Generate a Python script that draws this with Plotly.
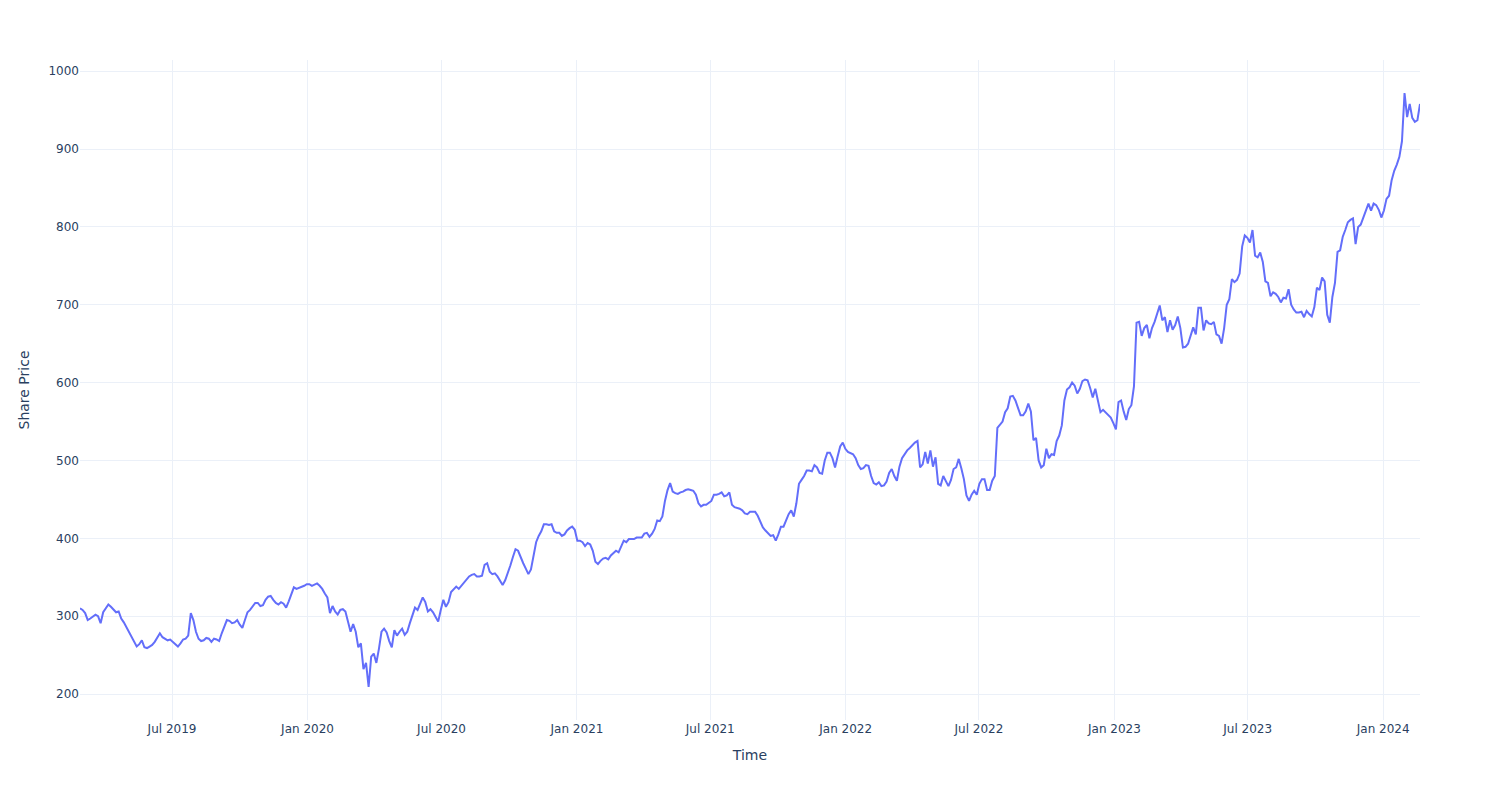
import pandas as pd
import plotly.graph_objects as go

start_date = "2019-02-26"
step = "84h"  # readings every 3.5 days
share_price = [
    310, 308, 304, 295, 297, 299, 302, 300, 291, 305,
    310, 315, 312, 309, 305, 306, 297, 292, 286, 279,
    274, 268, 261, 264, 269, 260, 259, 261, 263, 267,
    272, 278, 273, 271, 269, 270, 267, 265, 261, 265,
    270, 271, 275, 304, 295, 280, 271, 268, 269, 272,
    271, 267, 271, 270, 268, 278, 288, 295, 294, 291,
    292, 295, 289, 285, 295, 305, 308, 313, 317, 317,
    313, 314, 321, 325, 326, 321, 317, 315, 318, 316,
    311, 319, 328, 337, 335, 336, 337, 339, 341, 341,
    339, 341, 342, 339, 335, 329, 324, 304, 313, 306,
    302, 308, 309, 306, 294, 280, 290, 280, 260, 265,
    232, 240, 209, 248, 252, 240, 258, 280, 284, 279,
    268, 260, 282, 275, 280, 284, 276, 280, 291, 302,
    311, 308, 316, 324, 318, 306, 309, 305, 299, 293,
    308, 321, 312, 318, 331, 335, 338, 335, 339, 344,
    347, 351, 353, 354, 351, 351, 352, 366, 368, 357,
    354, 355, 351, 345, 340, 346, 355, 365, 376, 386,
    384, 375, 368, 361, 354, 360, 380, 395, 403, 409,
    418, 418, 417, 418, 409, 407, 407, 403, 405, 410,
    413, 415, 411, 397, 397, 395, 390, 394, 392, 384,
    370, 367, 371, 374, 375, 373, 378, 381, 384, 382,
    390, 397, 395, 399, 399, 399, 401, 401, 401, 406,
    407, 402, 406, 412, 423, 422, 428, 448, 462, 471,
    460, 458, 457, 459, 460, 462, 463, 462, 461, 456,
    445, 441, 443, 443, 445, 448, 456, 456, 457, 459,
    454, 455, 459, 443, 440, 439, 438, 436, 432, 431,
    434, 434, 434, 429, 422, 414, 410, 406, 403, 404,
    397, 405, 415, 415, 424, 431, 436, 428, 445, 470,
    475, 480, 487, 487, 486, 494, 491, 484, 483, 500,
    510, 510, 503, 491, 505, 518, 523, 515, 511, 510,
    508, 503, 494, 489, 490, 494, 493, 480, 471, 469,
    472, 467, 468, 473, 484, 489, 480, 474, 492, 503,
    508, 513, 516, 520, 523, 525, 491, 495, 511, 496,
    513, 492, 504, 470, 468, 480, 473, 467, 475, 489,
    491, 502, 490, 476, 455, 448, 456, 461, 456, 470,
    476, 476, 462, 462, 474, 480, 542, 546, 550, 562,
    567, 582, 583, 577, 567, 558, 558, 563, 573, 563,
    526, 529, 500, 491, 494, 515, 503, 508, 507, 525,
    532, 545, 577, 591, 594, 600, 596, 586, 592, 602,
    604, 603, 593, 581, 592, 575, 562, 565, 562, 559,
    555, 548, 540, 575, 577, 563, 552, 566, 571, 595,
    677, 678, 660, 670, 674, 657, 670, 678, 690, 699,
    680, 684, 665, 680, 668, 674, 685, 670, 645, 646,
    650, 660, 671, 662, 696, 696, 667, 680, 676, 675,
    678, 662, 660, 650, 670, 700, 707, 733, 729, 732,
    740, 775, 789, 786, 780, 796, 763, 761, 767, 755,
    730, 728, 711, 716, 714, 710, 703, 709, 708, 720,
    700, 694, 690, 690, 691, 684, 692, 688, 685, 697,
    722, 719, 735, 730, 687, 677, 710, 728, 768, 770,
    787, 796, 806, 809, 811, 778, 800, 803, 812, 820,
    830, 821, 830, 828, 822, 812, 821, 836, 840, 860,
    872, 880, 890, 910, 972, 941, 958, 940, 935, 937,
    958,
]
dates = pd.date_range(start_date, periods=len(share_price), freq=step)

fig = go.Figure()
fig.add_trace(go.Scatter(x=dates, y=share_price, mode="lines",
                         line=dict(color="#636EFA", width=2)))
fig.update_layout(
    template="plotly_white",
    width=1500, height=800,
    margin=dict(l=80, r=80, t=60, b=80),
    xaxis_title="Time",
    yaxis_title="Share Price",
    font=dict(family="DejaVu Sans, Verdana, sans-serif"),
    showlegend=False,
)
fig.write_html("out.html")
